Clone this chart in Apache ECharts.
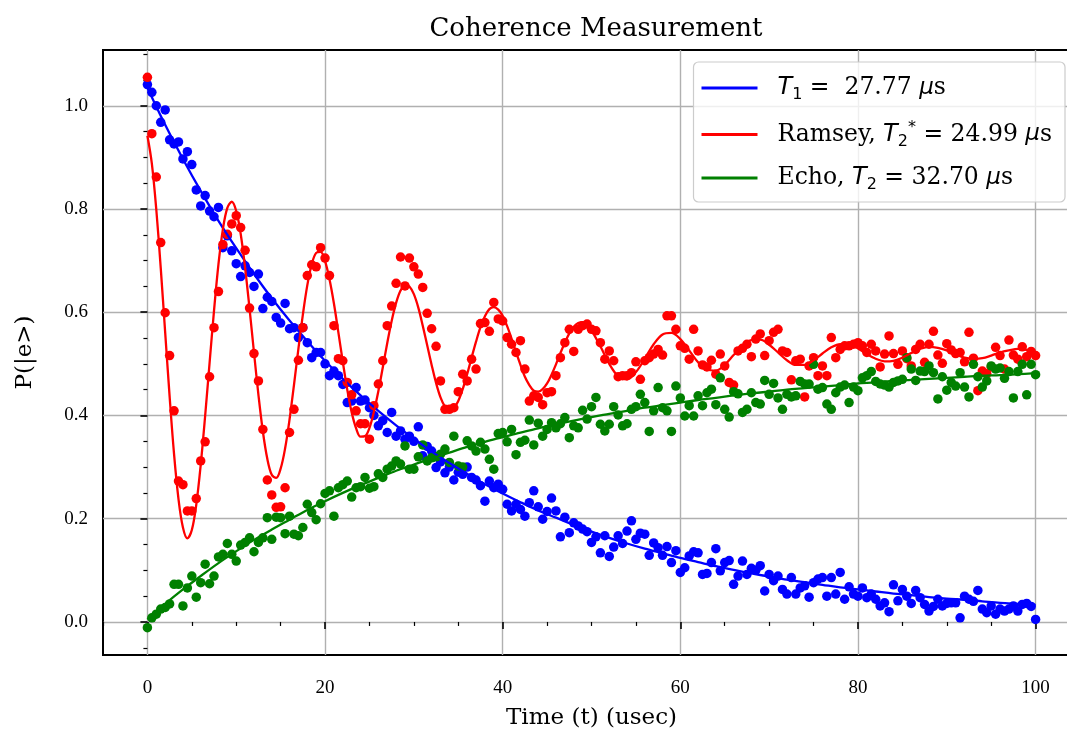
<!DOCTYPE html>
<html><head><meta charset="utf-8">
<script src="https://cdn.jsdelivr.net/npm/echarts@6/dist/echarts.min.js"></script>
<style>html,body{margin:0;padding:0;background:#fff}#chart{width:1067px;height:733px}</style>
</head><body><div id="chart"></div>
<script>
// ---- data ----
const SAMPLE_STEP = 0.5; // measurement spacing in usec, 0..100

const t1Values = [
1.041,1.026,1.000,0.968,0.992,0.934,0.926,0.930,0.897,0.911,0.886,0.837,0.806,0.826,0.796,0.785,0.803,0.725,0.748,0.719,
0.694,0.669,0.690,0.677,0.650,0.674,0.607,0.629,0.621,0.590,0.579,0.617,0.568,0.570,0.551,0.570,0.541,0.512,0.522,0.522,
0.500,0.477,0.486,0.477,0.460,0.425,0.428,0.454,0.428,0.430,0.415,0.400,0.380,0.390,0.367,0.406,0.360,0.370,0.354,0.360,
0.350,0.378,0.322,0.340,0.331,0.299,0.310,0.289,0.300,0.275,0.290,0.286,0.300,0.280,0.275,0.264,0.234,0.273,0.260,0.267,
0.257,0.228,0.215,0.228,0.218,0.205,0.231,0.254,0.223,0.199,0.214,0.240,0.215,0.165,0.203,0.173,0.192,0.186,0.180,0.175,
0.154,0.165,0.134,0.167,0.127,0.145,0.167,0.152,0.176,0.196,0.160,0.172,0.170,0.129,0.153,0.144,0.129,0.146,0.115,0.138,
0.096,0.105,0.128,0.136,0.134,0.092,0.094,0.115,0.142,0.099,0.115,0.119,0.073,0.089,0.118,0.092,0.104,0.100,0.109,0.060,
0.092,0.080,0.089,0.063,0.054,0.086,0.054,0.066,0.070,0.048,0.076,0.083,0.086,0.050,0.086,0.054,0.096,0.044,0.068,0.054,
0.050,0.066,0.047,0.054,0.044,0.031,0.037,0.020,0.072,0.041,0.063,0.050,0.036,0.061,0.047,0.034,0.021,0.030,0.044,0.031,
0.036,0.037,0.037,0.008,0.050,0.044,0.040,0.061,0.025,0.018,0.031,0.015,0.025,0.021,0.025,0.031,0.021,0.034,0.036,0.030,
0.005];

const ramseyValues = [
1.055,0.946,0.862,0.735,0.599,0.516,0.409,0.273,0.266,0.215,0.215,0.239,0.312,0.349,0.475,0.570,0.640,0.731,0.751,0.771,
0.787,0.764,0.720,0.608,0.520,0.467,0.373,0.275,0.246,0.222,0.223,0.260,0.367,0.412,0.507,0.570,0.671,0.692,0.688,0.725,
0.705,0.671,0.574,0.510,0.506,0.464,0.440,0.409,0.384,0.384,0.354,0.419,0.461,0.506,0.574,0.612,0.656,0.707,0.651,0.705,
0.688,0.674,0.648,0.598,0.568,0.534,0.467,0.412,0.412,0.415,0.446,0.480,0.467,0.509,0.490,0.578,0.580,0.563,0.619,0.587,
0.583,0.551,0.538,0.522,0.545,0.490,0.428,0.438,0.435,0.421,0.444,0.446,0.477,0.512,0.541,0.567,0.524,0.567,0.574,0.577,
0.567,0.564,0.541,0.509,0.525,0.506,0.475,0.477,0.477,0.483,0.504,0.470,0.506,0.512,0.519,0.528,0.517,0.593,0.593,0.567,
0.535,0.530,0.509,0.567,0.525,0.498,0.494,0.507,0.480,0.519,0.496,0.464,0.459,0.525,0.530,0.538,0.514,0.548,0.558,0.516,
0.545,0.561,0.567,0.525,0.522,0.469,0.506,0.509,0.436,0.496,0.512,0.477,0.496,0.477,0.551,0.512,0.528,0.535,0.535,0.538,
0.541,0.535,0.522,0.538,0.525,0.494,0.519,0.554,0.520,0.499,0.525,0.510,0.496,0.528,0.538,0.503,0.538,0.563,0.517,0.501,
0.539,0.527,0.520,0.522,0.504,0.561,0.511,0.448,0.486,0.481,0.494,0.532,0.516,0.490,0.546,0.517,0.509,0.533,0.514,0.524,
0.516];

const echoValues = [
-0.011,0.008,0.015,0.025,0.028,0.035,0.073,0.073,0.031,0.066,0.089,0.048,0.076,0.112,0.074,0.089,0.126,0.131,0.152,0.131,
0.118,0.149,0.154,0.163,0.136,0.154,0.163,0.202,0.160,0.203,0.202,0.171,0.205,0.170,0.167,0.183,0.228,0.212,0.198,0.229,
0.249,0.254,0.205,0.260,0.266,0.273,0.242,0.260,0.262,0.280,0.259,0.262,0.287,0.280,0.296,0.302,0.312,0.306,0.341,0.296,
0.296,0.320,0.343,0.312,0.318,0.320,0.325,0.335,0.309,0.360,0.302,0.300,0.351,0.341,0.331,0.348,0.335,0.315,0.296,0.365,
0.367,0.349,0.373,0.324,0.348,0.352,0.391,0.343,0.385,0.360,0.373,0.386,0.376,0.384,0.396,0.357,0.380,0.376,0.410,0.393,
0.417,0.435,0.383,0.370,0.383,0.417,0.401,0.380,0.384,0.412,0.417,0.441,0.425,0.369,0.409,0.454,0.415,0.409,0.369,0.457,
0.434,0.399,0.419,0.399,0.438,0.419,0.444,0.451,0.421,0.473,0.412,0.397,0.446,0.442,0.406,0.412,0.444,0.425,0.422,0.468,
0.441,0.462,0.434,0.412,0.441,0.436,0.438,0.466,0.461,0.461,0.499,0.451,0.454,0.422,0.412,0.444,0.455,0.459,0.425,0.455,
0.448,0.473,0.477,0.485,0.466,0.461,0.459,0.455,0.464,0.467,0.470,0.512,0.490,0.468,0.486,0.485,0.496,0.483,0.432,0.475,
0.449,0.464,0.457,0.483,0.455,0.436,0.499,0.475,0.455,0.467,0.496,0.490,0.492,0.472,0.485,0.434,0.485,0.499,0.440,0.499,
0.479];

// fitted curves
const FIT_STEP = 2; // t1 and echo fits sampled every 2 usec
const t1FitValues = [1.035,0.963,0.897,0.835,0.777,0.724,0.674,0.627,0.584,0.544,0.506,0.471,0.439,0.409,0.381,0.355,0.330,0.308,0.287,0.267,
0.249,0.232,0.216,0.202,0.188,0.175,0.163,0.152,0.142,0.133,0.124,0.116,0.108,0.101,0.094,0.088,0.082,0.077,0.072,0.067,
0.063,0.059,0.055,0.052,0.048,0.045,0.043,0.040,0.037,0.035,0.033];
const echoFitValues = [0.005,0.035,0.063,0.089,0.114,0.137,0.159,0.179,0.198,0.217,0.234,0.250,0.265,0.279,0.293,0.305,0.317,0.328,0.339,0.349,
0.358,0.367,0.375,0.383,0.390,0.397,0.403,0.409,0.415,0.420,0.425,0.430,0.434,0.439,0.443,0.446,0.450,0.453,0.456,0.459,
0.462,0.464,0.467,0.469,0.471,0.473,0.475,0.477,0.478,0.480,0.482];
// ramsey fit: every 0.5 usec on 0..50, then every 1 usec on 51..100
const ramseyFitFine = [0.942,0.888,0.799,0.686,0.561,0.437,0.325,0.238,0.183,0.162,0.178,0.227,0.304,0.399,0.502,0.603,0.693,0.761,0.802,0.814,0.796,
0.752,0.686,0.607,0.522,0.440,0.369,0.316,0.285,0.279,0.297,0.336,0.392,0.459,0.529,0.595,0.652,0.693,0.715,0.717,0.699,
0.664,0.617,0.561,0.504,0.450,0.406,0.375,0.359,0.360,0.376,0.407,0.447,0.493,0.540,0.583,0.618,0.642,0.653,0.650,0.635,
0.609,0.574,0.536,0.498,0.463,0.435,0.417,0.410,0.414,0.428,0.451,0.480,0.512,0.543,0.571,0.592,0.606,0.610,0.605,0.593,
0.573,0.549,0.523,0.498,0.475,0.459,0.448,0.446,0.451,0.462,0.479,0.499,0.521,0.541,0.559,0.572,0.579,0.581,0.576,0.565];
const ramseyFitCoarse = [0.534,0.500,0.476,0.470,0.484,0.510,0.538,0.557,0.560,0.548,
0.526,0.503,0.489,0.487,0.498,0.517,0.535,0.546,0.547,0.537,
0.522,0.507,0.498,0.498,0.507,0.520,0.532,0.538,0.537,0.530,
0.519,0.510,0.505,0.506,0.512,0.521,0.529,0.533,0.531,0.526,
0.519,0.512,0.510,0.511,0.516,0.522,0.526,0.529,0.527,0.523];

const seriesNames = ['T1', 'Ramsey', 'Echo'];
const seriesColors = ['#0000ff', '#ff0000', '#008000'];
const legendTexts = {
  T1: '{g| }{it|T}{sub|1}{rm| =  27.77 }{mu|μ}{rm|s}',
  Ramsey: '{g| }{rm|Ramsey, }{it|T}{sub|2}{sup|*}{rm| = 24.99 }{mu|μ}{rm|s}',
  Echo: '{g| }{rm|Echo, }{it|T}{sub|2}{rm| = 32.70 }{mu|μ}{rm|s}'
};
const xMajorTicks = [0, 20, 40, 60, 80, 100];
const xMinorTicks = [-5, 5, 10, 15, 25, 30, 35, 45, 50, 55, 65, 70, 75, 85, 90, 95, 105];
const yMajorTicks = [0, 0.2, 0.4, 0.6, 0.8, 1.0];
const yMinorTicks = [-0.05, 0.05, 0.1, 0.15, 0.25, 0.3, 0.35, 0.45, 0.5, 0.55, 0.65, 0.7, 0.75, 0.85, 0.9, 0.95, 1.05, 1.1];

// ---- build series ----
const pairs = (vals, step) => vals.map((v, i) => [i * step, v]);
const ramseyFit = pairs(ramseyFitFine, SAMPLE_STEP).concat(ramseyFitCoarse.map((v, i) => [51 + i, v]));
const scatterSets = [t1Values, ramseyValues, echoValues];
const fitSets = [pairs(t1FitValues, FIT_STEP), ramseyFit, pairs(echoFitValues, FIT_STEP)];

const series = [];
seriesNames.forEach((name, k) => {
  series.push({
    name: name + ' data', type: 'scatter', xAxisIndex: 0, yAxisIndex: 0,
    data: pairs(scatterSets[k], SAMPLE_STEP), symbol: 'circle', symbolSize: 9.5,
    itemStyle: { color: seriesColors[k], opacity: 1 }, silent: true
  });
  series.push({
    name: name, type: 'line', xAxisIndex: 0, yAxisIndex: 0,
    data: fitSets[k], smooth: 0.35, showSymbol: false, symbol: 'none',
    lineStyle: { color: seriesColors[k], width: 2.3 }, itemStyle: { color: seriesColors[k] }, silent: true
  });
});

const SERIF = 'DejaVu Serif';
const DIGITS = 'Liberation Serif';
const chart = echarts.init(document.getElementById('chart'), null, { renderer: 'canvas' });
chart.setOption({
  animation: false,
  backgroundColor: '#ffffff',
  title: {
    text: 'Coherence Measurement', left: 591, top: 11, textAlign: 'center',
    textStyle: { fontFamily: SERIF, fontSize: 26, fontWeight: 'normal', color: '#000' }
  },
  grid: { left: 103, top: 50, width: 977, height: 605, outerBoundsMode: 'none', containLabel: false,
          show: true, borderColor: '#000', borderWidth: 2, backgroundColor: 'transparent' },
  legend: {
    data: seriesNames, orient: 'vertical', right: 2, top: 62,
    icon: 'rect', itemWidth: 56, itemHeight: 3, itemGap: 16.5,
    padding: [14, 13, 9, 8], backgroundColor: 'rgba(255,255,255,0.8)',
    borderColor: '#cccccc', borderWidth: 1.2, borderRadius: 5,
    selectedMode: false,
    formatter: name => legendTexts[name],
    textStyle: {
      color: '#000',
      rich: {
        g: { width: 15, fontSize: 23 },
        rm: { fontFamily: SERIF, fontSize: 23.5, lineHeight: 30, color: '#000' },
        it: { fontFamily: 'DejaVu Sans', fontStyle: 'italic', fontSize: 24, lineHeight: 30, color: '#000' },
        mu: { fontFamily: 'DejaVu Sans', fontStyle: 'italic', fontSize: 23, lineHeight: 30, color: '#000' },
        sub: { fontFamily: 'DejaVu Sans', fontSize: 16, verticalAlign: 'bottom', color: '#000' },
        sup: { fontFamily: 'DejaVu Sans', fontSize: 16, verticalAlign: 'top', color: '#000' }
      }
    }
  },
  xAxis: [{
    type: 'value', min: -5, max: 105, position: 'bottom',
    name: 'Time (t) (usec)', nameLocation: 'middle', nameGap: 52,
    nameTextStyle: { fontFamily: SERIF, fontSize: 23, color: '#000' },
    axisLine: { show: false },
    axisTick: { show: true, customValues: xMajorTicks, length: 7, lineStyle: { color: '#000', width: 1.6 } },
    axisLabel: { customValues: xMajorTicks, fontFamily: DIGITS, fontSize: 19, color: '#000', margin: 24 },
    splitLine: { show: true, lineStyle: { color: '#b0b0b0', width: 1.4 } }
  }, {
    type: 'value', min: -5, max: 105, position: 'bottom',
    axisLine: { show: false }, axisLabel: { show: false }, splitLine: { show: false },
    axisTick: { show: true, customValues: xMinorTicks, length: 4, lineStyle: { color: '#000', width: 1.2 } }
  }],
  yAxis: [{
    type: 'value', min: -0.064, max: 1.108, position: 'left',
    name: 'P(|e>)', nameLocation: 'middle', nameGap: 66, nameRotate: 90,
    nameTextStyle: { fontFamily: SERIF, fontSize: 23, color: '#000' },
    axisLine: { show: false },
    axisTick: { show: true, customValues: yMajorTicks, length: 7, lineStyle: { color: '#000', width: 1.6 } },
    axisLabel: { customValues: yMajorTicks, fontFamily: DIGITS, fontSize: 19, color: '#000', margin: 15, formatter: v => v.toFixed(1) },
    splitLine: { show: true, lineStyle: { color: '#b0b0b0', width: 1.4 } }
  }, {
    type: 'value', min: -0.064, max: 1.108, position: 'left',
    axisLine: { show: false }, axisLabel: { show: false }, splitLine: { show: false },
    axisTick: { show: true, customValues: yMinorTicks, length: 4, lineStyle: { color: '#000', width: 1.2 } }
  }],
  series: series
});
</script></body></html>
